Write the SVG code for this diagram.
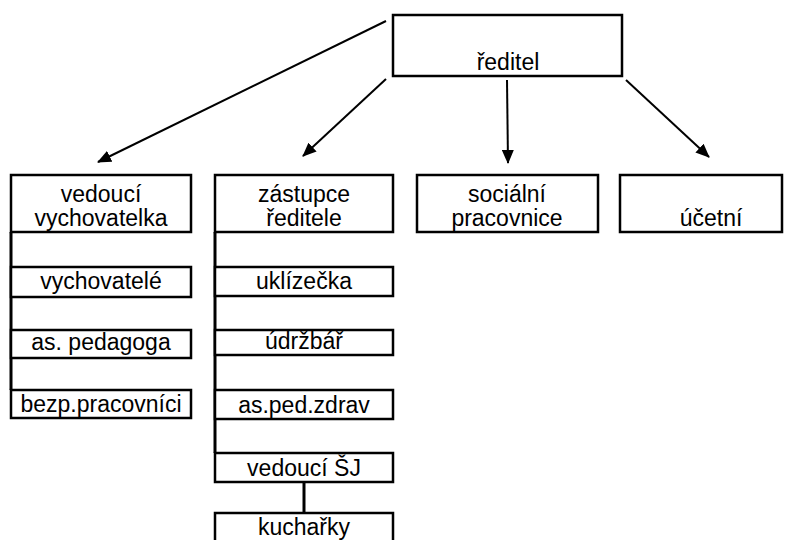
<svg xmlns="http://www.w3.org/2000/svg" width="788" height="540" viewBox="0 0 788 540">
<style>
.box{fill:#fff;stroke:#000;stroke-width:2.5}
.t{font-family:"Liberation Sans",Arial,sans-serif;font-size:23px;fill:#000;text-anchor:middle}
.ln{stroke:#000;stroke-width:3;fill:none}
.ar{stroke:#000;stroke-width:2;fill:none;marker-end:url(#ah)}
</style>
<defs>
<marker id="ah" viewBox="0 0 14 12" refX="13" refY="6" markerWidth="14" markerHeight="12" markerUnits="userSpaceOnUse" orient="auto">
<path d="M0,0 L14,6 L0,12 Z" fill="#000"/>
</marker>
</defs>
<g id="connectors">
<line class="ar" x1="386" y1="21" x2="98" y2="162"/>
<line class="ar" x1="386" y1="79" x2="303" y2="156"/>
<line class="ar" x1="507" y1="80" x2="508" y2="163"/>
<line class="ar" x1="626" y1="80" x2="709" y2="157"/>
<line class="ln" x1="11" y1="232" x2="11" y2="390"/>
<line class="ln" x1="215" y1="232" x2="215" y2="453"/>
<line class="ln" x1="304" y1="482" x2="304" y2="513"/>
</g>
<g id="reditel">
<rect class="box" x="393" y="15" width="229" height="61" stroke-width="3"/>
<text class="t" x="508" y="70">ředitel</text>
</g>
<g id="vedouci-vychovatelka">
<rect class="box" x="11" y="175" width="180" height="57"/>
<text class="t" x="101" y="202">vedoucí</text>
<text class="t" x="101" y="226">vychovatelka</text>
</g>
<g id="vychovatele">
<rect class="box" x="11" y="267" width="180" height="30"/>
<text class="t" x="101" y="289">vychovatelé</text>
</g>
<g id="as-pedagoga">
<rect class="box" x="11" y="330" width="180" height="28"/>
<text class="t" x="101" y="350">as. pedagoga</text>
</g>
<g id="bezp-pracovnici">
<rect class="box" x="11" y="390" width="180" height="28"/>
<text class="t" x="101" y="412">bezp.pracovníci</text>
</g>
<g id="zastupce-reditele">
<rect class="box" x="215" y="175" width="178" height="57"/>
<text class="t" x="304" y="202">zástupce</text>
<text class="t" x="304" y="226">ředitele</text>
</g>
<g id="uklizecka">
<rect class="box" x="215" y="267" width="178" height="29"/>
<text class="t" x="304" y="289">uklízečka</text>
</g>
<g id="udrzbar">
<rect class="box" x="215" y="330" width="178" height="25"/>
<text class="t" x="304" y="349">údržbář</text>
</g>
<g id="as-ped-zdrav">
<rect class="box" x="215" y="390" width="178" height="29"/>
<text class="t" x="304" y="413">as.ped.zdrav</text>
</g>
<g id="vedouci-sj">
<rect class="box" x="215" y="453" width="178" height="29"/>
<text class="t" x="304" y="476">vedoucí ŠJ</text>
</g>
<g id="kucharky">
<rect class="box" x="215" y="513" width="178" height="40"/>
<text class="t" x="304" y="535">kuchařky</text>
</g>
<g id="socialni-pracovnice">
<rect class="box" x="417" y="175" width="181" height="57"/>
<text class="t" x="507" y="202">sociální</text>
<text class="t" x="507" y="226">pracovnice</text>
</g>
<g id="ucetni">
<rect class="box" x="620" y="175" width="162" height="57"/>
<text class="t" x="711" y="226">účetní</text>
</g>
</svg>
